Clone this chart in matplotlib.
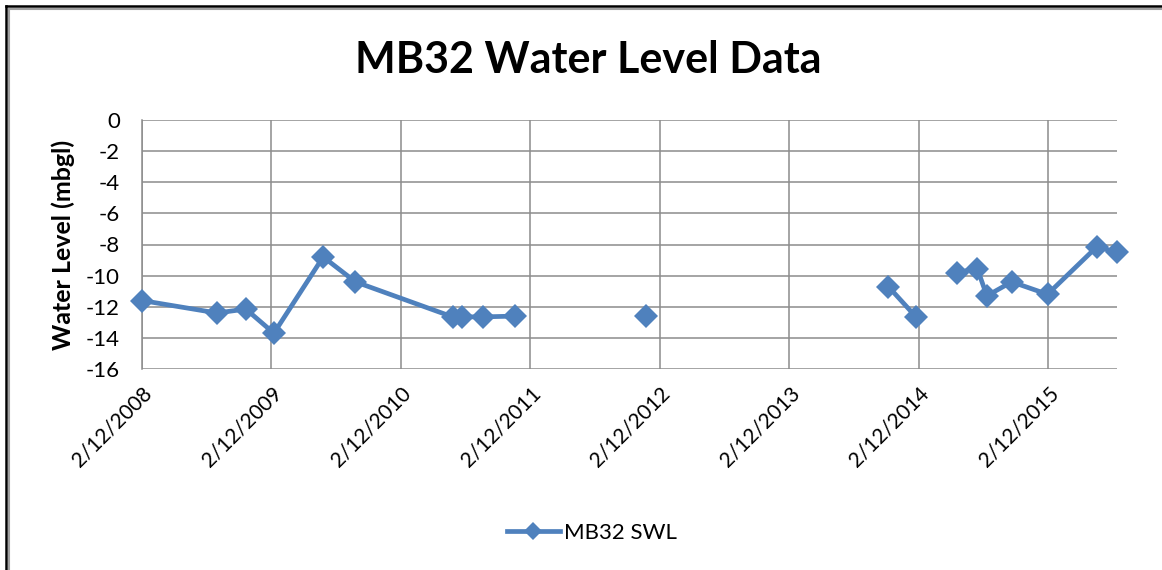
import matplotlib
matplotlib.use('Agg')
import matplotlib.pyplot as plt
from matplotlib.lines import Line2D
import pandas as pd

plt.rcParams['font.family'] = ['Lato', 'DejaVu Sans']

# MB32 standing water level readings (m below ground level)
survey_dates = ['2008-12-02', '2009-07-01', '2009-09-21', '2009-12-09',
                '2010-04-27', '2010-07-27', '2011-04-27', '2011-05-23',
                '2011-07-23', '2011-10-20', '2012-10-24', '2014-09-07',
                '2014-11-24', '2015-03-21', '2015-05-16', '2015-06-12',
                '2015-08-21', '2015-11-30', '2016-04-17', '2016-06-13']
swl = [-11.6, -12.4, -12.15, -13.7, -8.8, -10.4, -12.65, -12.65,
       -12.65, -12.6, -12.6, -10.7, -12.65, -9.8, -9.55, -11.3,
       -10.4, -11.2, -8.15, -8.5]
# rows with blank readings in between -> line restarts here
segment_starts = [0, 10, 11, 13]

tick_dates = ['2008-12-02', '2009-12-02', '2010-12-02', '2011-12-02',
              '2012-12-02', '2013-12-02', '2014-12-02', '2015-12-02']
tick_labels = ['2/12/2008', '2/12/2009', '2/12/2010', '2/12/2011',
               '2/12/2012', '2/12/2013', '2/12/2014', '2/12/2015']
y_ticks = [0, -2, -4, -6, -8, -10, -12, -14, -16]

BLUE = '#4F81BD'
GRID = '#8C8C8C'

dates = pd.to_datetime(survey_dates)
ticks = pd.to_datetime(tick_dates)

W, H = 1162, 570
fig = plt.figure(figsize=(W / 100, H / 100), dpi=100)
ax = fig.add_axes([142 / W, 1 - 369 / H, (1117 - 142) / W, (369 - 120) / H])

bounds = segment_starts + [len(swl)]
for i in range(len(segment_starts)):
    a, b = bounds[i], bounds[i + 1]
    ax.plot(dates[a:b], swl[a:b], '-D', color=BLUE, linewidth=3.4,
            markersize=12, markeredgewidth=0, zorder=3, clip_on=False)

ax.set_xlim(dates[0], dates[-1])
ax.set_ylim(-16, 0)
ax.set_yticks(y_ticks)
ax.set_yticklabels([str(v) for v in y_ticks])
ax.set_xticks(ticks)
ax.set_xticklabels(tick_labels, rotation=45, ha='right',
                   rotation_mode='anchor')
ax.tick_params(axis='both', length=0, colors='black')
ax.tick_params(axis='y', labelsize=16, pad=16)
ax.tick_params(axis='x', labelsize=15, pad=10)
ax.grid(True, color=GRID, linewidth=1.1)
ax.set_axisbelow(True)
for s in ['top', 'right', 'bottom']:
    ax.spines[s].set_visible(False)
ax.spines['left'].set_color(GRID)
ax.spines['left'].set_linewidth(1.1)

ax.set_ylabel('Water Level (mbgl)', fontsize=18, fontweight='bold',
              labelpad=8)
fig.text(588 / W, 1 - 60 / H, 'MB32 Water Level Data', ha='center',
         va='center', fontsize=31, fontweight='bold')

handle = Line2D([], [], color=BLUE, marker='D', linewidth=3.4,
                markersize=9, markeredgewidth=0)
fig.legend([handle], ['MB32 SWL'], loc='center',
           bbox_to_anchor=(592 / W, 1 - 533 / H), frameon=False,
           fontsize=16, handlelength=2.4, handletextpad=0.2)

# chart frame (top and left edges)
fig.add_artist(Line2D([6 / W, 1], [1 - 6 / H, 1 - 6 / H], color='black',
                      linewidth=1.8, transform=fig.transFigure))
fig.add_artist(Line2D([6 / W, 6 / W], [0, 1 - 6 / H], color='black',
                      linewidth=1.8, transform=fig.transFigure))
fig.add_artist(Line2D([9 / W, 1], [1 - 9 / H, 1 - 9 / H], color='#A0A0A0',
                      linewidth=1.5, transform=fig.transFigure))
fig.add_artist(Line2D([9 / W, 9 / W], [0, 1 - 9 / H], color='#A0A0A0',
                      linewidth=1.5, transform=fig.transFigure))

fig.savefig('out.png', dpi=100)
